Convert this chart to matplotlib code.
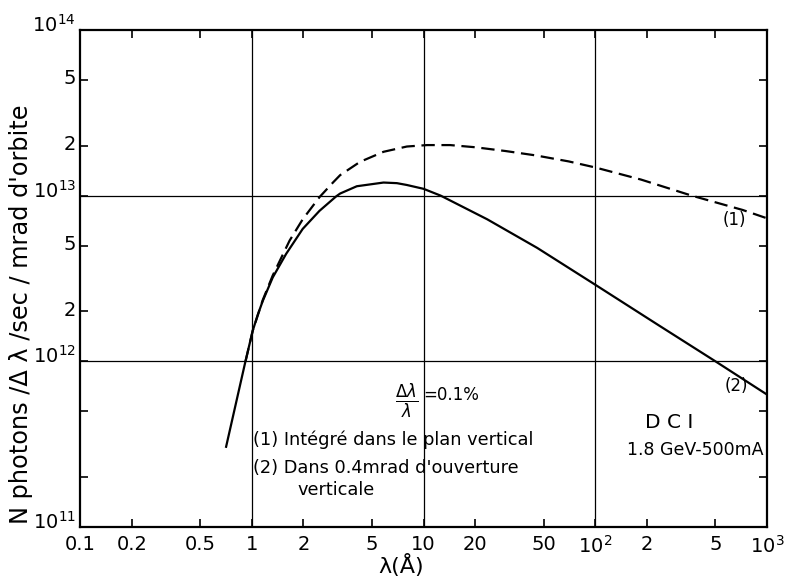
import numpy as np
import matplotlib
matplotlib.use("Agg")
import matplotlib.pyplot as plt
from matplotlib.transforms import ScaledTranslation

# ===== DONNEES =====
# (2) Dans 0.4 mrad d'ouverture verticale -> trait plein
lam_2 = [0.709, 0.919, 1.013, 1.084, 1.16, 1.325, 1.585, 1.98, 2.48, 3.1, 3.27,
         4.09, 5.85, 7.0, 8.0, 10, 12.6, 23.5, 45.9, 100, 232, 501, 1000]
flux_2 = [3.05e11, 1.0e12, 1.53e12, 1.91e12, 2.32e12, 3.21e12, 4.45e12, 6.3e12,
          8.1e12, 9.9e12, 1.03e13, 1.14e13, 1.2e13, 1.19e13, 1.16e13, 1.1e13,
          1.0e13, 7.2e12, 4.84e12, 2.9e12, 1.66e12, 1.0e12, 6.3e11]

# (1) Integre dans le plan vertical -> tirets
lam_1 = [0.92, 1.013, 1.16, 1.325, 1.66, 1.98, 2.48, 2.97, 3.27, 4.27, 5.85,
         8.0, 10.5, 14.3, 20, 30, 45, 70, 100, 185, 365, 721, 1000]
flux_1 = [1.0e12, 1.53e12, 2.35e12, 3.3e12, 5.35e12, 7.2e12, 9.8e12, 1.2e13,
          1.33e13, 1.6e13, 1.84e13, 1.98e13, 2.02e13, 2.02e13, 1.96e13, 1.86e13,
          1.75e13, 1.61e13, 1.48e13, 1.25e13, 1.0e13, 8.2e12, 7.3e12]

x_ticks = [0.1, 0.2, 0.5, 1, 2, 5, 10, 20, 50, 100, 200, 500, 1000]
x_labels = ["0.1", "0.2", "0.5", "1", "2", "5", "10", "20", "50",
            r"$\mathdefault{10^2}$", "2", "5", r"$\mathdefault{10^3}$"]
y_ticks = [1e11, 2e11, 5e11, 1e12, 2e12, 5e12, 1e13, 2e13, 5e13, 1e14]
y_labels = [r"$\mathdefault{10^{11}}$", "", "", r"$\mathdefault{10^{12}}$", "2", "5",
            r"$\mathdefault{10^{13}}$", "2", "5", r"$\mathdefault{10^{14}}$"]
x_grid = [1, 10, 100]
y_grid = [1e12, 1e13]

# ===== FIGURE =====
fig = plt.figure(figsize=(7.86, 5.78), dpi=100)
ax = fig.add_axes([80/786, 51/578, 687/786, 497/578])
ax.set_xscale("log")
ax.set_yscale("log")
ax.set_xlim(0.1, 1000)
ax.set_ylim(1e11, 1e14)

for g in x_grid:
    ax.axvline(g, color="black", lw=0.9, zorder=1)
for g in y_grid:
    ax.axhline(g, color="black", lw=0.9, zorder=1)

ax.plot(lam_2, flux_2, color="black", lw=1.6, zorder=3)
ax.plot(lam_1, flux_1, color="black", lw=1.6, ls=(0, (6, 3)), zorder=3)

ax.set_xticks(x_ticks)
ax.set_xticklabels(x_labels)
ax.set_yticks(y_ticks)
ax.set_yticklabels(y_labels)
ax.minorticks_off()
ax.tick_params(which="both", direction="in", length=6, width=1.2,
               top=True, right=True, labelsize=14)
ax.tick_params(axis="x", pad=6)
ax.tick_params(axis="y", pad=3)
for s in ax.spines.values():
    s.set_linewidth(1.6)

# les etiquettes en puissance de 10 sont un peu au-dessus du trait
for lab in ax.get_yticklabels():
    dy = 7 if "10^" in lab.get_text() else 3
    lab.set_transform(lab.get_transform() + ScaledTranslation(0, dy/100, fig.dpi_scale_trans))

# ===== TEXTES =====
ax.text(0.953, 0.618, "(1)", transform=ax.transAxes, fontsize=12,
        ha="center", va="center")
ax.text(0.956, 0.284, "(2)", transform=ax.transAxes, fontsize=12,
        ha="center", va="center")
ax.text(0.476, 0.252, r"$\frac{\Delta\lambda}{\lambda}$", transform=ax.transAxes,
        fontsize=17, ha="center", va="center")
ax.text(0.499, 0.266, "=0.1%", transform=ax.transAxes, fontsize=12,
        ha="left", va="center")
ax.text(0.252, 0.175, "(1) Intégré dans le plan vertical", transform=ax.transAxes,
        fontsize=12.8, ha="left", va="center")
ax.text(0.252, 0.119, "(2) Dans 0.4mrad d'ouverture", transform=ax.transAxes,
        fontsize=12.8, ha="left", va="center")
ax.text(0.317, 0.074, "verticale", transform=ax.transAxes,
        fontsize=12.8, ha="left", va="center")
ax.text(0.822, 0.211, "D C I", transform=ax.transAxes, fontsize=14.5,
        ha="left", va="center")
ax.text(0.796, 0.155, "1.8 GeV-500mA", transform=ax.transAxes, fontsize=12.5,
        ha="left", va="center")

fig.text(401/786, 1 - 565/578, "λ(Å)", fontsize=16, ha="center", va="center")
fig.text(21/786, 1 - 314/578, "N photons /Δ λ /sec / mrad d'orbite",
         fontsize=17.3, rotation=90, ha="center", va="center")

fig.savefig("out.png", dpi=100)
